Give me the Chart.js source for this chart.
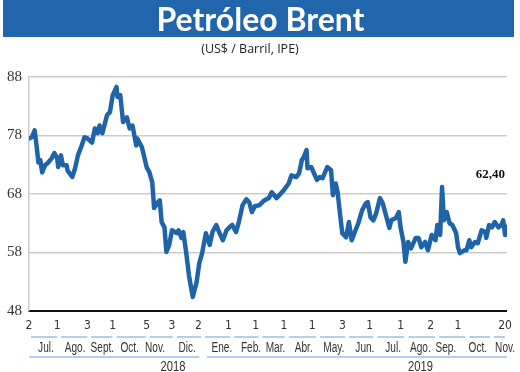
<!DOCTYPE html>
<html>
<head>
<meta charset="utf-8">
<script src="https://cdn.jsdelivr.net/npm/chart.js@4.4.1/dist/chart.umd.min.js"></script>
<style>
  body { margin: 0; background: #ffffff; }
  #wrap { position: relative; width: 520px; height: 372px; overflow: hidden; }
  #banner {
    position: absolute; left: 3px; top: 0; width: 511px; height: 37px;
    background: #2166ab; color: #ffffff; text-align: center;
    font: bold 32px Lato, "Open Sans", sans-serif; line-height: 38px;
    padding-left: 4px; box-sizing: border-box;
  }
  #sub {
    position: absolute; left: 0; top: 40px; width: 500px; text-align: center;
    font: 12.5px "Open Sans", sans-serif; color: #222222;
  }
  #brentChart { position: absolute; left: 0; top: 0; }
</style>
</head>
<body>
<div id="wrap">
  <canvas id="brentChart" width="520" height="372"></canvas>
  <div id="banner">Petróleo Brent</div>
  <div id="sub">(US$ / Barril, IPE)</div>
</div>
<script>
//DATA (days counted from 2 Jul 2018)
var days = [
  0, 3, 6, 8, 10, 12, 14, 17, 20, 24,
  27, 30, 31, 34, 36, 40, 41, 46, 49, 52,
  56, 59, 62, 67, 70, 73, 75, 78, 83, 86,
  89, 93, 94, 97, 100, 104, 107, 110, 114, 115,
  120, 125, 128, 131, 133, 137, 139, 141, 144, 146,
  149, 152, 157, 159, 162, 164, 167, 170, 174, 178,
  181, 184, 188, 192, 195, 199, 202, 206, 210, 213,
  216, 220, 223, 227, 231, 234, 237, 240, 245, 250,
  255, 258, 263, 266, 271, 276, 279, 284, 287, 290,
  292, 295, 296, 300, 303, 306, 309, 312, 317, 321,
  323, 326, 328, 331, 333, 337, 340, 343, 347, 350,
  354, 358, 360, 363, 366, 369, 373, 376, 380, 383,
  385, 390, 393, 395, 398, 400, 403, 406, 411, 414,
  417, 421, 424, 428, 432, 434, 437, 439, 441, 444,
  447, 450, 454, 456, 458, 463, 465, 468, 470, 474,
  477, 481, 485, 486, 489, 492, 495, 499, 502, 504,
  506, 508
];
var prices = [
  77.5, 77.7, 78.9, 76.3, 73.4, 73.8, 71.7, 72.9, 73.3, 74.1,
  75.0, 74.1, 72.6, 74.6, 72.9, 72.9, 72.0, 70.9, 72.4, 74.6,
  76.3, 77.7, 77.5, 76.8, 79.2, 78.4, 79.7, 78.4, 81.5, 82.0,
  84.9, 86.3, 84.6, 84.9, 80.3, 81.1, 79.2, 79.7, 76.3, 77.5,
  76.0, 72.6, 71.7, 70.0, 65.6, 66.6, 66.9, 63.2, 62.3, 58.1,
  59.3, 61.8, 61.3, 61.8, 60.5, 61.5, 58.1, 54.1, 50.4, 52.8,
  56.2, 57.9, 61.3, 59.3, 61.5, 62.7, 61.5, 60.1, 61.8, 62.3,
  62.7, 61.5, 63.2, 66.1, 67.1, 66.6, 64.9, 65.9, 66.1, 66.9,
  67.3, 68.3, 67.3, 67.8, 68.7, 69.8, 71.2, 70.9, 71.5, 73.8,
  74.3, 75.5, 72.4, 72.6, 71.5, 70.4, 70.9, 70.7, 72.6, 72.1,
  67.8, 69.8, 68.3, 64.0, 61.3, 60.6, 63.2, 60.1, 61.8, 63.0,
  65.2, 66.4, 66.6, 64.0, 63.5, 64.7, 67.3, 66.4, 64.0, 62.2,
  63.5, 63.9, 64.9, 62.2, 59.8, 56.4, 59.8, 58.7, 60.5, 60.5,
  58.9, 59.8, 58.4, 61.0, 60.1, 62.7, 61.0, 69.2, 63.5, 64.9,
  63.0, 62.7, 61.3, 58.9, 57.9, 58.4, 58.4, 60.1, 58.9, 59.8,
  59.6, 61.8, 61.5, 60.5, 62.7, 62.3, 63.2, 62.3, 62.7, 63.5,
  61.0, 62.4
];

//AXIS LABELS
var yTicks = [48, 58, 68, 78, 88];
var dayTickDays = [0, 30, 62, 89, 125, 152, 180, 212, 241, 271, 301, 333, 362, 395, 427, 456, 506];
var dayTickLabels = ["2", "1", "3", "1", "5", "3", "2", "1", "1", "1", "1", "3", "1", "1", "2", "1", "20"];
var monthLabels = ["Jul.", "Ago.", "Sept.", "Oct.", "Nov.", "Dic.", "Ene.", "Feb.", "Mar.", "Abr.", "May.", "Jun.", "Jul.", "Ago.", "Sep.", "Oct.", "Nov."];
var monthDays = [18, 49, 78, 107, 134, 168, 205, 236, 262, 292, 324, 357, 387, 416, 443, 477, 506];
var monthBounds = [0, 32, 64, 91, 126, 155, 185, 216, 246, 274, 307, 338, 368, 401, 434, 466, 492, 508];
var years = ["2018", "2019"];
var yearDays = [153, 416];
var yearBounds = [[0, 181], [189, 508]];

var lastValue = prices[prices.length - 1];

//NARROW TEXT (the print uses a condensed face)
function narrowText(ctx, txt, x, y, k) {
  ctx.save();
  ctx.translate(x, y);
  ctx.scale(k, 1);
  ctx.fillText(txt, 0, 0);
  ctx.restore();
}

//MONTHS, YEARS AND VALUE LABEL
var extraLabels = {
  id: "extraLabels",
  afterDraw: function(chart) {
    var ctx = chart.ctx;
    var xs = chart.scales.x;
    var ys = chart.scales.y;
    var bottom = chart.chartArea.bottom;
    ctx.save();
    ctx.strokeStyle = "#9cbfe4";
    ctx.lineWidth = 1.5;
    for (var i = 0; i < monthBounds.length - 1; i++) {
      var a = xs.getPixelForValue(monthBounds[i]) + 2;
      var b = xs.getPixelForValue(monthBounds[i + 1]) - 2;
      ctx.beginPath();
      ctx.moveTo(a, bottom + 26);
      ctx.lineTo(b, bottom + 26);
      ctx.stroke();
    }
    yearBounds.forEach(function(r) {
      ctx.beginPath();
      ctx.moveTo(xs.getPixelForValue(r[0]), bottom + 46);
      ctx.lineTo(xs.getPixelForValue(r[1]), bottom + 46);
      ctx.stroke();
    });
    ctx.fillStyle = "#333333";
    ctx.textAlign = "center";
    ctx.textBaseline = "middle";
    ctx.font = "14px 'Liberation Sans', sans-serif";
    monthLabels.forEach(function(m, i) {
      narrowText(ctx, m, xs.getPixelForValue(monthDays[i]), bottom + 37, 0.72);
    });
    ctx.font = "14px 'Liberation Sans', sans-serif";
    years.forEach(function(y, i) {
      narrowText(ctx, y, xs.getPixelForValue(yearDays[i]), bottom + 56, 0.8);
    });
    //LAST VALUE
    var lx = xs.getPixelForValue(days[days.length - 1]);
    var ly = ys.getPixelForValue(lastValue);
    ctx.fillStyle = "#111111";
    ctx.font = "bold 13px 'Liberation Serif', serif";
    ctx.textAlign = "right";
    ctx.fillText(lastValue.toFixed(2).replace(".", ","), lx - 2, ly - 52);
    ctx.restore();
  }
};

var ctxBrent = document.getElementById("brentChart").getContext("2d");
var brentChart = new Chart(ctxBrent, {
  type: "line",
  data: {
    datasets: [{
      data: days.map(function(d, i) { return { x: d, y: prices[i] }; }),
      borderColor: "#1f63a9",
      borderWidth: 4.5,
      pointRadius: 0,
      tension: 0,
      borderJoinStyle: "round",
      borderCapStyle: "round"
    }]
  },
  options: {
    responsive: false,
    animation: false,
    layout: { padding: { top: 77, right: 11, left: 0, bottom: 0 } },
    plugins: { legend: { display: false }, tooltip: { enabled: false } },
    scales: {
      x: {
        type: "linear",
        min: 0,
        max: 508,
        afterFit: function(s) { s.height = 61; },
        afterBuildTicks: function(s) {
          s.ticks = dayTickDays.map(function(v) { return { value: v }; });
        },
        grid: { display: false, drawTicks: false },
        border: { display: true, color: "#111111", width: 2 },
        ticks: {
          autoSkip: false,
          maxRotation: 0,
          padding: 8,
          color: "#333333",
          font: { family: "'DejaVu Sans Condensed', sans-serif", size: 12 },
          callback: function(v, i) { return dayTickLabels[i]; }
        }
      },
      y: {
        min: 48,
        max: 88,
        afterFit: function(s) { s.width = 29; },
        afterBuildTicks: function(s) {
          s.ticks = yTicks.map(function(v) { return { value: v }; });
        },
        grid: { color: "#cccccc", lineWidth: 1.5, drawTicks: false },
        border: { display: true, color: "#cccccc", width: 1.5 },
        ticks: {
          padding: 7,
          color: "#333333",
          font: { family: "'Liberation Serif', serif", size: 15 }
        }
      }
    }
  },
  plugins: [extraLabels]
});
</script>
</body>
</html>
